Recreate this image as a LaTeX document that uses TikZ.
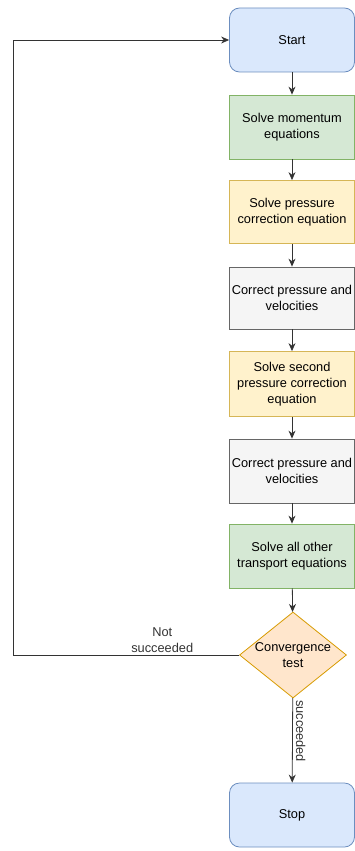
\documentclass[tikz,border=0pt]{standalone}
\usepackage{fontspec}
\setmainfont{Liberation Sans}
\usepackage{tikz}
\usetikzlibrary{positioning,arrows.meta,calc,shapes.geometric}
\definecolor{bluefill}{HTML}{DAE8FC}\definecolor{blueline}{HTML}{6C8EBF}
\definecolor{greenfill}{HTML}{D5E8D4}\definecolor{greenline}{HTML}{82B366}
\definecolor{yellowfill}{HTML}{FFF2CC}\definecolor{yellowline}{HTML}{D6B656}
\definecolor{greyfill}{HTML}{F5F5F5}\definecolor{greyline}{HTML}{666666}
\definecolor{orangefill}{HTML}{FFE6CC}\definecolor{orangeline}{HTML}{D79B00}
\definecolor{edgeline}{HTML}{333333}
\tikzset{
  flowbox/.style={draw, align=center, font=\fontsize{12.8}{16}\selectfont,
    minimum width=125pt, minimum height=64pt, inner sep=2pt, line width=0.8pt},
  termbox/.style={flowbox, rounded corners=10pt, fill=bluefill, draw=blueline},
  greenbox/.style={flowbox, fill=greenfill, draw=greenline},
  yellowbox/.style={flowbox, fill=yellowfill, draw=yellowline},
  greybox/.style={flowbox, fill=greyfill, draw=greyline},
  testbox/.style={diamond, draw=orangeline, fill=orangefill, align=center,
    font=\fontsize{12.8}{16}\selectfont, aspect=1.244, inner xsep=-4pt, inner ysep=0pt,
    minimum width=107pt, minimum height=86pt, line width=0.8pt},
  flowarrow/.style={-{Stealth[length=8pt, width=7pt]}, draw=edgeline, line width=0.8pt},
  flowlabel/.style={font=\fontsize{12.8}{16}\selectfont, align=center, text=edgeline},
}

\begin{document}
\begin{tikzpicture}[x=1pt, y=-1pt]
  \useasboundingbox (0,0) rectangle (354,851);
  \node[termbox] (start) at (292,40) {Start};
  \node[greenbox] (mom) at (292,127) {Solve momentum\\equations};
  \node[yellowbox, minimum height=63pt] (pcorr) at (292,212) {Solve pressure\\correction equation};
  \node[greybox, minimum height=62pt] (corr) at (292,298) {Correct pressure and\\velocities};
  \node[yellowbox, minimum height=65pt] (pcorrtwo) at (292,384) {Solve second\\pressure correction\\equation};
  \node[greybox] (corrtwo) at (292,471) {Correct pressure and\\velocities};
  \node[greenbox] (other) at (292,556) {Solve all other\\transport equations};
  \node[testbox] (conv) at (293,655) {Convergence\\test};
  \node[termbox] (stop) at (292,815) {Stop};
  \coordinate (loop) at (13,655);
  % main chain
  \draw[flowarrow] (start) -- (mom);
  \draw[flowarrow] (mom) -- (pcorr);
  \draw[flowarrow] (pcorr) -- (corr);
  \draw[flowarrow] (corr) -- (pcorrtwo);
  \draw[flowarrow] (pcorrtwo) -- (corrtwo);
  \draw[flowarrow] (corrtwo) -- (other);
  \draw[flowarrow] (other) -- (conv);
  \draw[flowarrow] (conv) -- node[flowlabel, pos=0.39, rotate=-90, anchor=south, inner sep=3pt]{succeeded} (stop);
  % back to start
  \draw[flowarrow] (conv.west) -- node[flowlabel, pos=0.34, above, inner sep=2pt]{Not\\succeeded} (loop) |- (start.west);
\end{tikzpicture}
\end{document}
